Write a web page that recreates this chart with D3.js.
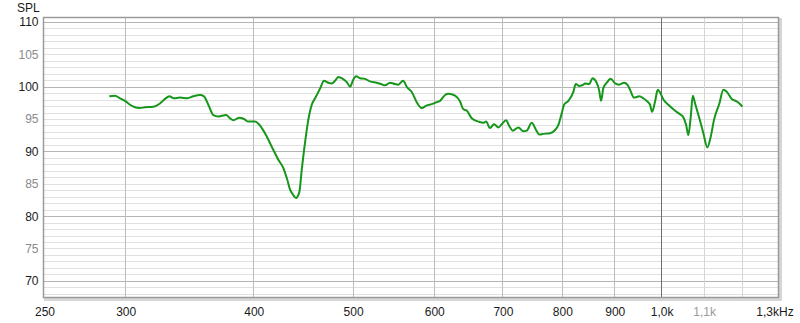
<!DOCTYPE html>
<html>
<head>
<meta charset="utf-8">
<script src="https://cdn.jsdelivr.net/npm/d3@7"></script>
<style>
  html, body { margin: 0; padding: 0; background: #fff; }
  svg { display: block; }
  text { font-family: "Liberation Sans", Arial, sans-serif; }
</style>
</head>
<body>
<svg id="chart" width="800" height="323"></svg>
<script>
// ---- data ----
const freqs = [289.5,293.2,296.5,299.9,303.3,306.7,309.7,313.7,319.6,324.4,328.1,331.3,334.8,339.3,344.9,349.6,354.9,358.1,361.6,365.7,369.8,376.3,379.7,382.5,387.7,391.8,395.6,401.6,405.5,412.3,418.5,423.2,428.0,431.8,434.5,437.4,440.3,443.6,446.0,449.3,452.7,456.2,459.6,464.8,468.9,473.5,477.1,480.7,484.2,489.1,493.5,497.2,500.5,503.9,508.4,514.2,520.0,527.9,533.0,537.8,543.9,550.0,554.1,560.0,565.1,571.4,577.5,584.0,590.6,597.3,604.0,608.5,615.4,620.0,629.4,636.5,641.2,646.1,653.4,663.2,670.7,674.8,680.8,687.0,693.7,699.0,705.8,711.0,716.5,725.6,733.7,739.4,747.7,755.0,760.6,767.5,779.1,787.9,793.8,799.8,804.0,811.8,821.0,825.4,832.1,839.6,842.8,851.0,856.8,863.9,869.7,873.7,878.2,884.9,892.9,901.6,909.7,920.0,926.8,932.5,940.9,952.1,960.7,969.4,975.3,979.7,986.3,992.3,997.5,1004.9,1016.3,1027.7,1039.3,1049.7,1057.5,1062.9,1068.7,1073.5,1079.1,1089.5,1099.4,1109.3,1117.8,1126.1,1139.6,1149.9,1158.7,1171.8,1185.0,1192.0,1200.1];
const splValues = [98.5,98.6,98.2,97.8,97.2,96.8,96.7,96.8,96.9,97.4,98.1,98.5,98.2,98.3,98.2,98.5,98.7,98.5,97.2,95.6,95.4,95.6,95.1,94.8,95.2,95.0,94.6,94.6,94.1,92.3,90.2,88.7,87.4,85.6,84.1,83.3,82.8,83.7,87.1,91.3,94.9,97.2,98.2,99.7,100.9,100.6,100.5,100.9,101.5,101.2,100.7,100.0,101.0,101.6,101.3,101.2,100.8,100.6,100.4,100.2,100.6,100.4,100.3,100.9,99.9,99.1,97.6,96.7,97.1,97.3,97.6,97.8,98.7,98.9,98.6,97.7,96.5,96.3,95.1,94.6,94.4,94.6,93.6,94.2,93.7,94.2,94.8,93.9,93.2,93.7,93.1,93.2,94.4,93.3,92.6,92.7,92.8,93.3,94.1,95.9,97.2,97.8,99.2,100.4,100.1,100.3,100.5,100.4,101.3,100.8,99.5,97.8,99.8,100.6,101.2,100.5,100.3,100.6,100.3,99.5,98.3,98.5,98.2,97.7,97.2,96.1,97.7,99.5,99.1,98.0,97.2,96.5,95.9,95.4,94.1,92.5,95.4,98.6,97.4,95.1,92.8,90.6,92.3,94.9,97.4,99.5,99.2,98.1,97.7,97.4,96.9];

const xTickValues = [250, 300, 400, 500, 600, 700, 800, 900, 1000, 1100, 1300];
const xTickLabels = ["250", "300", "400", "500", "600", "700", "800", "900", "1,0k", "1,1k", "1,3kHz"];
const xGridValues = [300, 400, 500, 600, 700, 800, 900, 1000, 1100, 1200];
const yTickValues = [70, 75, 80, 85, 90, 95, 100, 105, 110];
const yTickLabels = ["70", "75", "80", "85", "90", "95", "100", "105", "110"];
const yAxisTitle = "SPL";

// ---- layout ----
const pL = 44, pR = 778, pT = 18, pB = 297;
const svg = d3.select("#chart");

const x = d3.scaleLog().domain([250, 1300]).range([pL, pR]);
const y = d3.scaleLinear().domain([67.5, 110.6]).range([pB, pT]);

// frame shadow
svg.append("rect")
  .attr("x", pL + 1.5).attr("y", pT + 1.5)
  .attr("width", pR - pL + 1).attr("height", pB - pT + 1)
  .attr("fill", "none").attr("stroke", "#d6d6d6").attr("stroke-width", 3);

svg.append("rect")
  .attr("x", pL).attr("y", pT)
  .attr("width", pR - pL).attr("height", pB - pT)
  .attr("fill", "#fff");

// horizontal grid, 1 dB steps
const fine = d3.range(68, 111, 1);
svg.append("g").selectAll("line").data(fine).join("line")
  .attr("x1", pL).attr("x2", pR)
  .attr("y1", d => Math.round(y(d)) + 0.5).attr("y2", d => Math.round(y(d)) + 0.5)
  .attr("stroke", d => d % 10 === 0 ? "#b4b4b4" : "#e0e0e0")
  .attr("stroke-width", 1);

// vertical grid
svg.append("g").selectAll("line").data(xGridValues).join("line")
  .attr("x1", d => Math.round(x(d)) + 0.5).attr("x2", d => Math.round(x(d)) + 0.5)
  .attr("y1", pT).attr("y2", pB)
  .attr("stroke", d => d === 1000 ? "#6e6e6e" : (d > 1000 ? "#d6d6d6" : "#bdbdbd"))
  .attr("stroke-width", 1);

// frame
svg.append("rect")
  .attr("x", pL - 0.5).attr("y", pT - 0.5)
  .attr("width", pR - pL + 1).attr("height", pB - pT + 1)
  .attr("fill", "none").attr("stroke", "#9a9a9a").attr("stroke-width", 1.5);

// curve
const line = d3.line()
  .x((d, i) => x(freqs[i]))
  .y(d => y(d))
  .curve(d3.curveMonotoneX);

svg.append("path")
  .datum(splValues)
  .attr("d", line)
  .attr("fill", "none")
  .attr("stroke", "#16961a")
  .attr("stroke-width", 2)
  .attr("stroke-linejoin", "round");

// y tick labels
svg.append("g").selectAll("text").data(yTickValues).join("text")
  .attr("x", 38.5)
  .attr("y", d => y(d) + 4.5)
  .attr("text-anchor", "end")
  .attr("font-size", 12)
  .attr("fill", d => d % 10 === 0 ? "#1a1a1a" : "#8a8a8a")
  .text((d, i) => yTickLabels[i]);

// x tick labels
svg.append("g").selectAll("text").data(xTickValues).join("text")
  .attr("x", d => x(d) + (d === 1300 ? -3 : 1))
  .attr("y", 316)
  .attr("text-anchor", "middle")
  .attr("font-size", 12)
  .attr("fill", d => d === 1100 ? "#9a9a9a" : "#1a1a1a")
  .text((d, i) => xTickLabels[i]);

// axis title
svg.append("text")
  .attr("x", 17).attr("y", 12)
  .attr("font-size", 12)
  .attr("fill", "#1a1a1a")
  .text(yAxisTitle);
</script>
</body>
</html>
